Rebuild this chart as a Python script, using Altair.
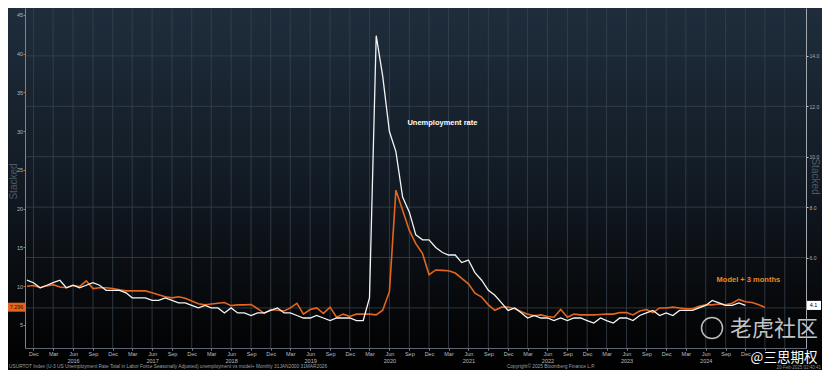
import altair as alt
import pandas as pd

# ---------------- data ----------------
first_month = "2015-11-01"

# US U-3 unemployment rate, monthly, Nov 2015 .. Dec 2024 (right axis)
unemployment_rate = [
    5.1, 5.0,
    4.8, 4.9, 5.0, 5.1, 4.8, 4.9, 4.8, 4.9, 5.0, 4.9, 4.7, 4.7,
    4.7, 4.6, 4.4, 4.4, 4.4, 4.3, 4.3, 4.4, 4.3, 4.2, 4.2, 4.1,
    4.0, 4.1, 4.0, 4.0, 3.8, 4.0, 3.8, 3.8, 3.7, 3.8, 3.8, 3.9,
    4.0, 3.8, 3.8, 3.7, 3.6, 3.6, 3.7, 3.6, 3.5, 3.6, 3.6, 3.6,
    3.5, 3.5, 4.4, 14.8, 13.2, 11.0, 10.2, 8.4, 7.8, 6.9, 6.7, 6.7,
    6.4, 6.2, 6.1, 6.1, 5.8, 5.9, 5.4, 5.1, 4.7, 4.5, 4.2, 3.9,
    4.0, 3.8, 3.6, 3.7, 3.6, 3.6, 3.5, 3.6, 3.5, 3.6, 3.6, 3.5,
    3.4, 3.6, 3.5, 3.4, 3.6, 3.6, 3.5, 3.7, 3.8, 3.9, 3.7, 3.8,
    3.7, 3.9, 3.9, 3.9, 4.0, 4.1, 4.3, 4.2, 4.1, 4.1, 4.2, 4.1,
]

# Model shifted forward 3 months, monthly, Nov 2015 .. Mar 2025 (left axis)
model_plus_3m = [
    10.0, 10.1,
    9.8, 10.05, 10.2, 9.9, 9.8, 10.1, 9.95, 10.7, 9.7, 9.8, 9.8, 9.7,
    9.55, 9.4, 9.4, 9.4, 9.4, 9.15, 8.9, 8.65, 8.5, 8.65, 8.45, 8.1,
    7.75, 7.6, 7.7, 7.8, 7.9, 7.5, 7.6, 7.6, 7.65, 7.1, 6.5, 7.0,
    6.9, 6.8, 7.2, 7.8, 6.4, 7.0, 7.2, 6.5, 7.3, 6.0, 6.4, 6.1,
    6.4, 6.4, 6.4, 6.3, 6.9, 9.3, 22.4, 19.8, 17.2, 15.5, 14.2, 11.5,
    12.1, 12.05, 12.0, 11.7, 11.0, 10.3, 9.1, 8.6, 7.6, 6.9, 7.3, 7.3,
    7.1, 6.7, 6.4, 6.2, 6.3, 6.1, 6.0, 7.0, 6.0, 6.4, 6.3, 6.3,
    6.3, 6.35, 6.4, 6.4, 6.6, 6.6, 6.3, 6.8, 7.0, 6.6, 7.2, 7.2,
    7.3, 7.2, 7.1, 7.1, 7.4, 7.6, 7.6, 7.7, 7.6, 7.8, 8.3, 8.0,
    7.9, 7.6, 7.296,
]

left_ticks = [5, 10, 15, 20, 25, 30, 35, 40, 45]
right_ticks = [6, 8, 10, 12, 14]
right_grid = [4, 6, 8, 10, 12, 14]
last_model_label = "7.296"
last_model = 7.296
last_rate_label = "4.1"
last_rate = 4.1

footnote = ("USURTOT Index (U-3 US Unemployment Rate Total in Labor Force Seasonally Adjusted) "
            "unemployment vs model+   Monthly 31JAN2000 31MAR2026")
copyright_text = "Copyright\u00a9 2025 Bloomberg Finance L.P."
stamp_text = "20-Feb-2025 02:40:41"

# ---------------- tables ----------------
months = pd.date_range(first_month, periods=len(model_plus_3m), freq="MS").strftime("%Y-%m-%d")
rate_df = pd.DataFrame({"date": list(months[:len(unemployment_rate)]), "value": unemployment_rate})
model_df = pd.DataFrame({"date": list(months), "value": model_plus_3m})
quarters = pd.date_range("2015-12-01", "2025-06-01", freq="3MS")
q_df = pd.DataFrame({"date": quarters.strftime("%Y-%m-%d")})
q_values = [alt.DateTime(year=int(d.year), month=int(d.month), date=1, utc=True) for d in quarters]
rgrid_df = pd.DataFrame({"v": right_grid})
dummy = pd.DataFrame({"a": [0]})

# ---------------- styling ----------------
W, H = 781, 340
ORANGE = "#e2661f"
WHITE = "#f4f4f4"
GRID = "#37424e"
FONT = "Liberation Sans"

xscale = alt.Scale(type="utc", nice=False,
                   domain=[alt.DateTime(year=2015, month=10, date=23, utc=True),
                           alt.DateTime(year=2025, month=9, date=7, utc=True)])
LDOM = [2.03, 45.9]
RDOM = [2.41, 15.9]

def lscale():
    return alt.Scale(domain=LDOM, nice=False, zero=False)

def rscale():
    return alt.Scale(domain=RDOM, nice=False, zero=False)

xaxis = alt.Axis(
    values=q_values, grid=False, title=None, zindex=1,
    labelExpr=("utcyear(datum.value) >= 2025 ? '' : "
               "(utcmonth(datum.value) == 5 ? [utcFormat(datum.value, '%b'), utcFormat(datum.value, '%Y')]"
               " : utcFormat(datum.value, '%b'))"),
    labelFont=FONT, labelFontSize=5.5, labelColor="#b9bdc2", labelPadding=1.5,
    labelLineHeight=7, labelOverlap=False, labelFlush=False,
    domainColor="#5c6570", tickColor="#8a9096", tickSize=2,
)
X = alt.X("date:T", scale=xscale, axis=xaxis)

laxis = alt.Axis(
    orient="left", values=left_ticks, format="d", grid=False, zindex=1,
    labelFont=FONT, labelFontSize=5.5, labelColor="#b0b4b8", labelPadding=0.5,
    tickColor=ORANGE, tickSize=2, domainColor=ORANGE, domainWidth=1,
    title="Stacked", titleColor="#4f5964", titleFont=FONT, titleFontSize=10,
    titleFontWeight="normal", titleAngle=270, titleAlign="center", titleBaseline="middle",
    titleX=-11.5, titleY=173,
)
raxis = alt.Axis(
    orient="right", values=right_ticks, format=".1f", grid=False, zindex=1,
    labelFont=FONT, labelFontSize=5, labelColor="#a9aeb3", labelPadding=1,
    tickColor="#c0c4c8", tickSize=2, domainColor="#a0a6ac", domainWidth=1,
    title="Stacked", titleColor="#4f5964", titleFont=FONT, titleFontSize=10,
    titleFontWeight="normal", titleAngle=90, titleAlign="center", titleBaseline="middle",
    titleX=8, titleY=168,
)

bg_grad = alt.LinearGradient(
    gradient="linear", x1=0, x2=0, y1=0, y2=1,
    stops=[alt.GradientStop(color="#1f2d3c", offset=0),
           alt.GradientStop(color="#131c26", offset=0.45),
           alt.GradientStop(color="#07090c", offset=0.8),
           alt.GradientStop(color="#000000", offset=1)],
)

# ---------------- layers ----------------
bg = alt.Chart(dummy).mark_rect(color=bg_grad).encode(
    x=alt.value(-17), x2=alt.value(W + 16), y=alt.value(0), y2=alt.value(H + 22))

vgrid = alt.Chart(q_df).mark_rule(color=GRID, strokeWidth=0.8).encode(x=X)

hgrid = alt.Chart(rgrid_df).mark_rule(color=GRID, strokeWidth=0.8).encode(
    y=alt.Y("v:Q", scale=rscale(), axis=None))

orange_line = alt.Chart(model_df).mark_line(color=ORANGE, strokeWidth=1.6).encode(
    x=X, y=alt.Y("value:Q", scale=lscale(), axis=laxis))

white_line = alt.Chart(rate_df).mark_line(color=WHITE, strokeWidth=1.3).encode(
    x=X, y=alt.Y("value:Q", scale=rscale(), axis=raxis))

lbox_df = pd.DataFrame({"lo": [last_model - 0.58], "hi": [last_model + 0.58],
                        "v": [last_model], "t": [last_model_label]})
orange_box = alt.Chart(lbox_df).mark_rect(color=ORANGE).encode(
    x=alt.value(-17), x2=alt.value(0),
    y=alt.Y("lo:Q", scale=lscale(), axis=None), y2="hi:Q")
orange_box_text = alt.Chart(lbox_df).mark_text(
    font=FONT, fontSize=5.5, color="#2a1200", align="center", baseline="middle").encode(
    x=alt.value(-8.5), y=alt.Y("v:Q", scale=lscale(), axis=None), text="t:N")

model_lab_df = pd.DataFrame({"date": ["2024-12-15"], "v": [10.8], "t": ["Model + 3 months"]})
model_label = alt.Chart(model_lab_df).mark_text(
    font=FONT, fontSize=7.5, fontWeight="bold", color="#ec8a22",
    align="center", baseline="middle").encode(
    x=X, y=alt.Y("v:Q", scale=lscale(), axis=None), text="t:N")

rbox_df = pd.DataFrame({"lo": [last_rate - 0.18], "hi": [last_rate + 0.18],
                        "v": [last_rate], "t": [last_rate_label]})
white_box = alt.Chart(rbox_df).mark_rect(color="#ffffff").encode(
    x=alt.value(W), x2=alt.value(W + 15),
    y=alt.Y("lo:Q", scale=rscale(), axis=None), y2="hi:Q")
white_box_text = alt.Chart(rbox_df).mark_text(
    font=FONT, fontSize=5.5, color="#000000", align="center", baseline="middle").encode(
    x=alt.value(W + 7.5), y=alt.Y("v:Q", scale=rscale(), axis=None), text="t:N")

rate_lab_df = pd.DataFrame({"date": ["2021-02-01"], "v": [11.32], "t": ["Unemployment rate"]})
rate_label = alt.Chart(rate_lab_df).mark_text(
    font=FONT, fontSize=7.5, fontWeight="bold", color="#ffffff",
    align="center", baseline="middle").encode(
    x=X, y=alt.Y("v:Q", scale=rscale(), axis=None), text="t:N")

# footer texts
foot = alt.Chart(dummy).mark_text(
    font=FONT, fontSize=4.8, color="#9aa0a6", align="left", baseline="middle").encode(
    x=alt.value(-16), y=alt.value(H + 19), text=alt.value(footnote))
copy_ = alt.Chart(dummy).mark_text(
    font=FONT, fontSize=4.8, color="#9aa0a6", align="center", baseline="middle").encode(
    x=alt.value(526), y=alt.value(H + 19), text=alt.value(copyright_text))
stamp = alt.Chart(dummy).mark_text(
    font=FONT, fontSize=4.5, color="#8a9096", align="right", baseline="middle").encode(
    x=alt.value(W + 15), y=alt.value(H + 20), text=alt.value(stamp_text))

# watermark
wm_ring = alt.Chart(dummy).mark_point(
    shape="circle", size=441, filled=False, color="#d0d0d0", strokeWidth=1.5, opacity=0.9).encode(
    x=alt.value(687), y=alt.value(320))
wm1 = alt.Chart(dummy).mark_text(
    font="Noto Sans CJK SC", fontSize=22, color="#d8d8d8", opacity=0.9,
    align="center", baseline="middle").encode(
    x=alt.value(749), y=alt.value(321), text=alt.value("老虎社区"))
wm2 = alt.Chart(dummy).mark_text(
    font="Noto Sans CJK SC", fontSize=13.5, color="#ffffff",
    align="center", baseline="middle").encode(
    x=alt.value(759), y=alt.value(350), text=alt.value("@三思期权"))

chart = alt.layer(
    bg, vgrid, hgrid, orange_line, white_line,
    orange_box, orange_box_text, model_label,
    white_box, white_box_text, rate_label,
    foot, copy_, stamp, wm_ring, wm1, wm2,
).resolve_scale(y="independent").properties(
    width=W, height=H,
    padding={"left": 17, "top": 0, "right": 16, "bottom": 22},
    autosize=alt.AutoSizeParams(type="none"),
    background="#000000",
).configure_view(strokeWidth=0)

chart.save("out.html", embed_options={"renderer": "svg", "actions": False})
